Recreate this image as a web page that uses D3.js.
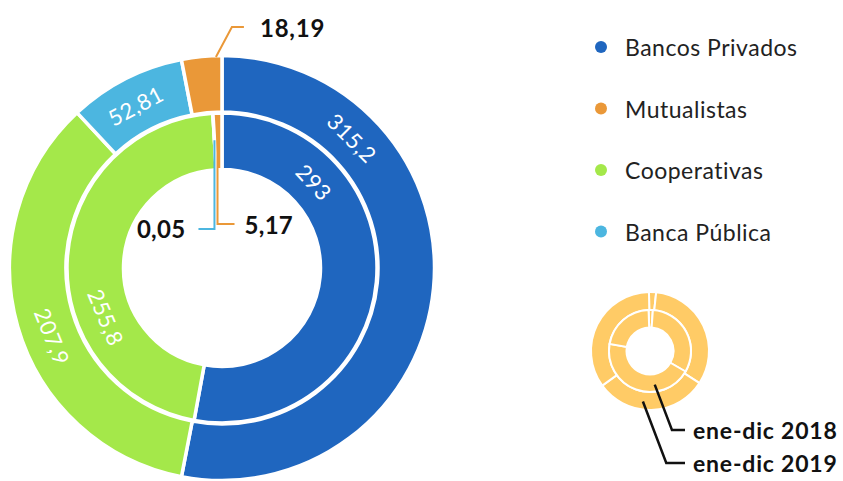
<!DOCTYPE html>
<html><head><meta charset="utf-8">
<script src="https://cdn.jsdelivr.net/npm/d3@7"></script>
<style>html,body{margin:0;padding:0;background:#fff;}svg{display:block;font-family:Lato,"Open Sans",sans-serif;}</style>
</head><body>
<svg id="c" width="843" height="481"></svg>
<script>
// ---- data ----
const categories = ["Bancos Privados", "Mutualistas", "Cooperativas", "Banca Pública"];
const colors = ["#1F66BF", "#EA9838", "#A4E84A", "#4CB6E0"];
const values2019 = [315.2, 18.19, 207.9, 52.81];   // outer ring
const values2018 = [293, 5.17, 255.8, 0.05];       // inner ring
const ringOrder = [0, 2, 3, 1];                    // clockwise drawing order
const periodLabels = ["ene-dic 2018", "ene-dic 2019"];
const iconOuter = [7, 117, 111, 125];
const iconInner = [6, 116, 160, 78];

const svg = d3.select("#c");
const fmt = v => String(v).replace(".", ",");
const deg = Math.PI / 180;
const cx = 222, cy = 268;
const R = {outer: [156, 212.5], inner: [98.5, 155]};

function ring(values, radii) {
  const order = ringOrder.map(i => ({i, v: values[i]}));
  const arcs = d3.pie().sort(null).value(d => d.v)(order);
  const arc = d3.arc().innerRadius(radii[0]).outerRadius(radii[1]);
  svg.append("g").attr("transform", `translate(${cx},${cy})`)
    .selectAll("path").data(arcs).join("path")
    .attr("d", arc)
    .attr("fill", d => colors[d.data.i])
    .attr("stroke", "#fff").attr("stroke-width", 3.5);
  return arcs;
}
const outerArcs = ring(values2019, R.outer);
const innerArcs = ring(values2018, R.inner);

// in-ring rotated labels (angle in degrees, clockwise from top)
const inLabels = [
  {vals: values2019, i: 0, a: 45, r: 184},
  {vals: values2019, i: 2, a: 248, r: 183},
  {vals: values2019, i: 3, a: 332, r: 184},
  {vals: values2018, i: 0, a: 47, r: 126},
  {vals: values2018, i: 2, a: 247, r: 126}
];
inLabels.forEach(l => {
  const x = cx + l.r * Math.sin(l.a * deg), y = cy - l.r * Math.cos(l.a * deg);
  let rot = l.a; while (rot > 90) rot -= 180;
  svg.append("text").attr("transform", `translate(${x},${y}) rotate(${rot})`)
    .attr("text-anchor", "middle").attr("dominant-baseline", "central")
    .attr("fill", "#fff").attr("font-size", 22).attr("letter-spacing", 0.6).text(fmt(l.vals[l.i]));
});

function pt(a, r) { return [cx + r * Math.sin(a * deg), cy - r * Math.cos(a * deg)]; }
function angleOf(arcs, i, t) {
  const d = arcs.find(d => d.data.i === i);
  return (d.startAngle + (d.endAngle - d.startAngle) * t) / deg;
}

// outer Mutualistas callout
{
  const p = pt(angleOf(outerArcs, 1, 0.85), 211);
  const k = [p[0] + 16, p[1] - 30];
  svg.append("path").attr("d", d3.line()([p, k, [k[0] + 12, k[1]]]))
    .attr("fill", "none").attr("stroke", colors[1]).attr("stroke-width", 2);
  svg.append("text").attr("x", k[0] + 28).attr("y", k[1]).attr("dominant-baseline", "central")
    .attr("font-weight", 700).attr("font-size", 24).attr("letter-spacing", 0.8).attr("fill", "#111").text(fmt(values2019[1]));
}
// inner Mutualistas callout
{
  const p = pt(angleOf(innerArcs, 1, 0.5), 153);
  const yk = cy - 44;
  svg.append("path").attr("d", d3.line()([p, [p[0], yk], [p[0] + 17, yk]]))
    .attr("fill", "none").attr("stroke", colors[1]).attr("stroke-width", 2);
  svg.append("text").attr("x", p[0] + 27).attr("y", yk).attr("dominant-baseline", "central")
    .attr("font-weight", 700).attr("font-size", 24).attr("letter-spacing", 0.3).attr("fill", "#111").text(fmt(values2018[1]));
}
// inner Banca Pública callout
{
  const p = pt(angleOf(innerArcs, 3, 0.5), 128);
  const yk = cy - 39;
  svg.append("path").attr("d", d3.line()([p, [p[0], yk], [p[0] - 16, yk]]))
    .attr("fill", "none").attr("stroke", colors[3]).attr("stroke-width", 2);
  svg.append("text").attr("x", p[0] - 29).attr("y", yk - 1).attr("text-anchor", "end")
    .attr("dominant-baseline", "central")
    .attr("font-weight", 700).attr("font-size", 24).attr("letter-spacing", 0.3).attr("fill", "#111").text(fmt(values2018[3]));
}

// legend
const leg = svg.append("g");
categories.forEach((c, i) => {
  const y = 47 + i * 61.5;
  leg.append("circle").attr("cx", 601).attr("cy", y).attr("r", 6).attr("fill", colors[i]);
  leg.append("text").attr("x", 625).attr("y", y).attr("dominant-baseline", "central")
    .attr("font-size", 23).attr("letter-spacing", 0.5).attr("fill", "#222").text(c);
});

// icon donut
const ix = 650, iy = 351;
const icol = "#FFCB66";
[[iconOuter, [41, 59], -1], [iconInner, [23.5, 41], -2]].forEach(([vals, rr, start]) => {
  const arcs = d3.pie().sort(null).startAngle(start * deg).endAngle((360 + start) * deg)(vals);
  svg.append("g").attr("transform", `translate(${ix},${iy})`)
    .selectAll("path").data(arcs).join("path")
    .attr("d", d3.arc().innerRadius(rr[0]).outerRadius(rr[1]))
    .attr("fill", icol).attr("stroke", "#fff").attr("stroke-width", 2);
});
function ipt(a, r) { return [ix + r * Math.sin(a * deg), iy - r * Math.cos(a * deg)]; }
[[172, 34, 430, periodLabels[0]], [188, 51, 463, periodLabels[1]]].forEach(([a, r, y, t]) => {
  const p = ipt(a, r);
  const k = [p[0] + (y - p[1]) * 0.38, y];
  svg.append("path").attr("d", d3.line()([p, k, [685, y]]))
    .attr("fill", "none").attr("stroke", "#111").attr("stroke-width", 2.5);
  svg.append("text").attr("x", 693).attr("y", y).attr("dominant-baseline", "central")
    .attr("font-weight", 700).attr("font-size", 23).attr("letter-spacing", 0.8).attr("fill", "#111").text(t);
});
</script>
</body></html>
